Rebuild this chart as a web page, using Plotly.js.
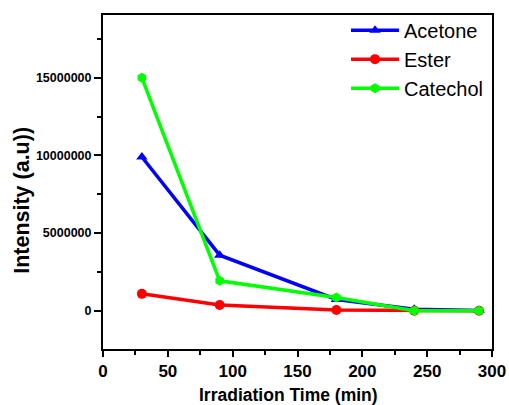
<!DOCTYPE html>
<html><head><meta charset="utf-8">
<script src="https://cdn.plot.ly/plotly-3.0.1.min.js"></script>
<style>html,body{margin:0;padding:0;background:#fff;}#chart{width:509px;height:405px;}</style>
</head><body><div id="chart"></div>
<script>
const time = [30, 90, 180, 240, 290];
const acetone = [9900000, 3580000, 730000, 100000, 20000];
const ester = [1090000, 370000, 50000, 0, 0];
const catechol = [15000000, 1930000, 860000, 0, 0];
const seriesNames = ['Acetone', 'Ester', 'Catechol'];
const xTicks = [0, 50, 100, 150, 200, 250, 300];
const yTicks = [0, 5000000, 10000000, 15000000];
const yTickText = ['0', '5000000', '10000000', '15000000'];

const traces = [
  {x: time, y: acetone, name: seriesNames[0], mode: 'lines+markers', line: {color: '#0000ff', width: 3.5}, marker: {symbol: 'triangle-up', size: 10, color: '#0000ff'}},
  {x: time, y: ester, name: seriesNames[1], mode: 'lines+markers', line: {color: '#ff0000', width: 3.5}, marker: {symbol: 'circle', size: 10, color: '#ff0000'}},
  {x: time, y: catechol, name: seriesNames[2], mode: 'lines+markers', line: {color: '#00ff00', width: 3.5}, marker: {symbol: 'hexagon', size: 10, color: '#00ff00'}}
];

const layout = {
  width: 509, height: 405,
  margin: {l: 103, r: 17, t: 14, b: 56},
  paper_bgcolor: '#fff', plot_bgcolor: '#fff',
  font: {family: 'Liberation Sans, Arial, sans-serif', color: '#000'},
  xaxis: {
    range: [0, 300], tickvals: xTicks,
    ticks: 'outside', ticklen: 6, tickwidth: 1.5, tickcolor: '#000',
    minor: {dtick: 25, ticks: 'outside', ticklen: 4, tickwidth: 1.5, tickcolor: '#000'},
    showline: true, linewidth: 2, linecolor: '#000', mirror: true, showgrid: false, zeroline: false,
    tickfont: {size: 17, family: 'Liberation Sans, Arial, sans-serif', weight: 'bold'}
  },
  yaxis: {
    range: [-2460000, 19040000], tickvals: yTicks, ticktext: yTickText,
    ticks: 'outside', ticklen: 7, tickwidth: 1.5, tickcolor: '#000',
    minor: {dtick: 2500000, tick0: 0, ticks: 'outside', ticklen: 4, tickwidth: 1.5, tickcolor: '#000'},
    showline: true, linewidth: 2, linecolor: '#000', mirror: true, showgrid: false, zeroline: false,
    tickfont: {size: 12.5, family: 'Liberation Sans, Arial, sans-serif', weight: 'bold'}
  },
  annotations: [
    {text: '<b>Irradiation Time (min)</b>', xref: 'paper', yref: 'paper', x: 0.477, y: -0.137, xanchor: 'center', yanchor: 'middle', showarrow: false, font: {size: 17.5}},
    {text: '<b>Intensity (a.u))</b>', xref: 'paper', yref: 'paper', x: -0.207, y: 0.445, xanchor: 'center', yanchor: 'middle', textangle: -90, showarrow: false, font: {size: 21.5}}
  ],
  legend: {x: 0.6247, y: 1.01, xanchor: 'left', yanchor: 'top', bgcolor: 'rgba(0,0,0,0)', font: {size: 20, family: 'Liberation Sans'}, tracegroupgap: 0, itemwidth: 48},
  showlegend: true
};
Plotly.newPlot('chart', traces, layout, {displayModeBar: false});
</script></body></html>
